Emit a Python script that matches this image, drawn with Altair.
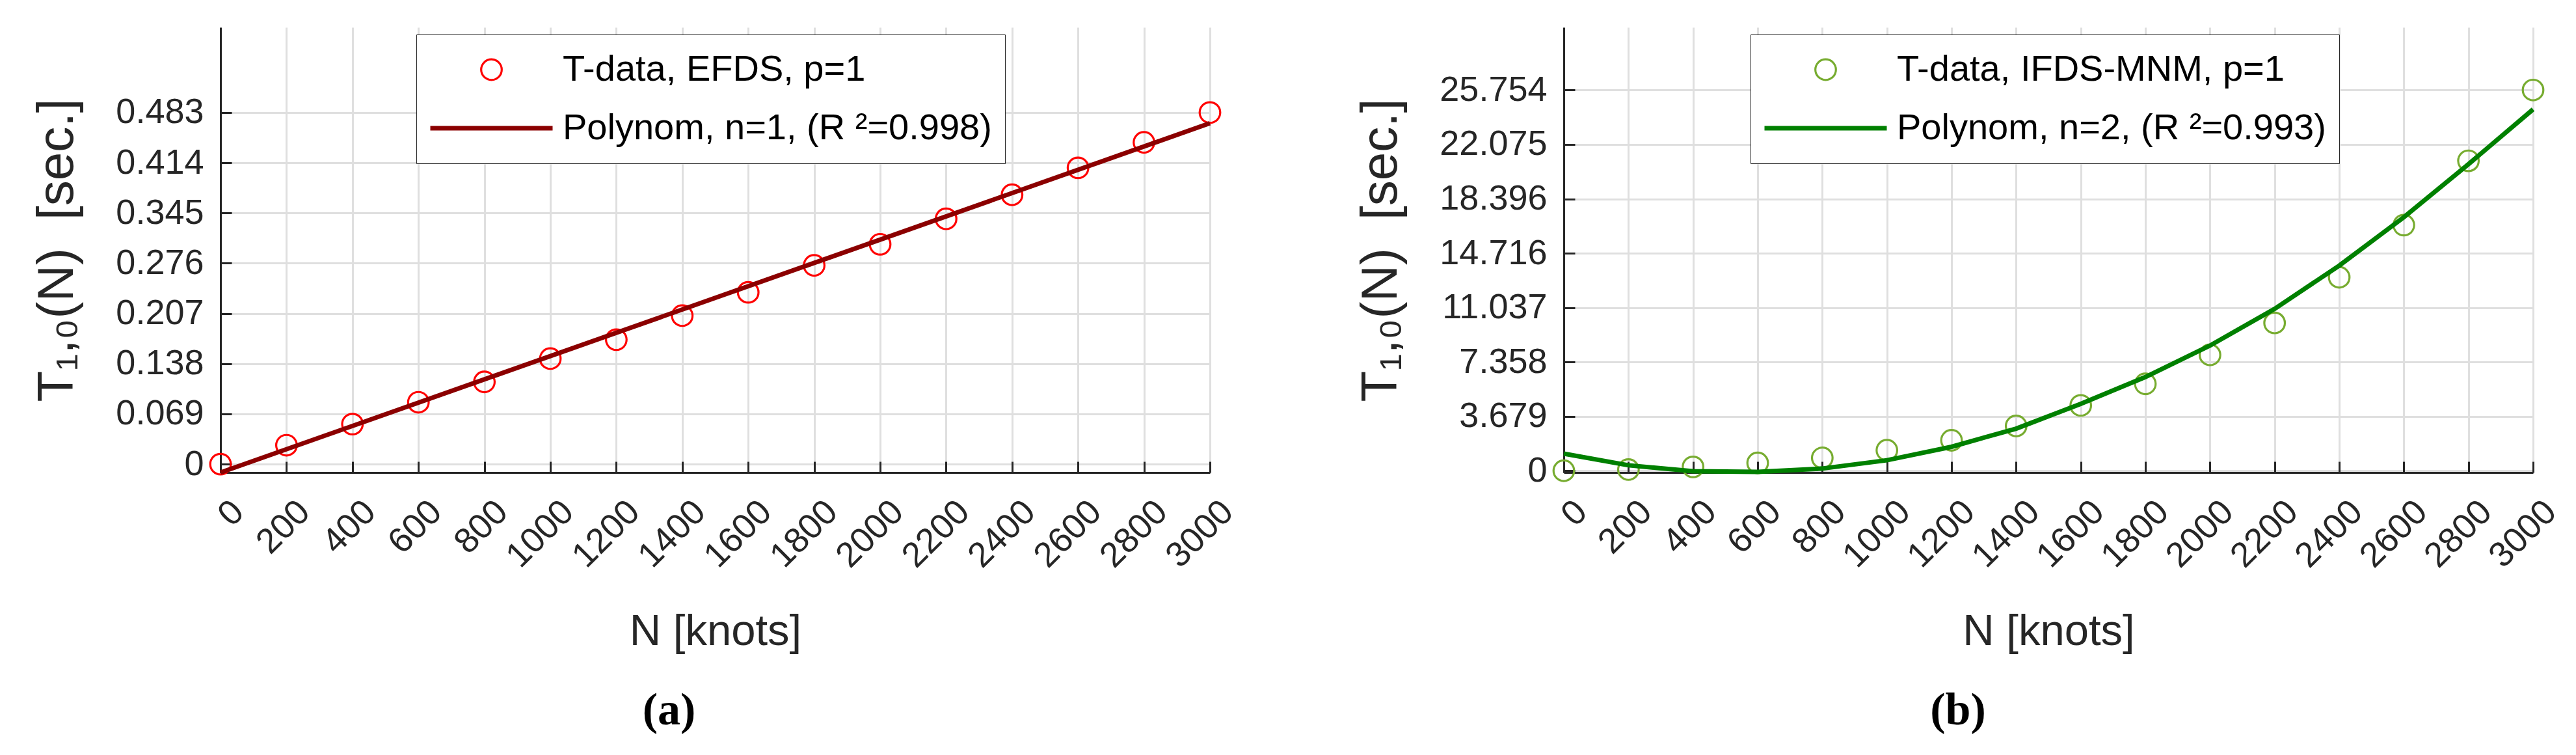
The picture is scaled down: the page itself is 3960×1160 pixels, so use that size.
import altair as alt
import pandas as pd

# ---------------- data ----------------
N_KNOTS = [0, 200, 400, 600, 800, 1000, 1200, 1400, 1600, 1800,
           2000, 2200, 2400, 2600, 2800, 3000]

# (a) EFDS measurements and the degree-1 fit (end points of the drawn line)
T_EFDS = [0.000, 0.026, 0.055, 0.085, 0.113, 0.145, 0.171, 0.204,
          0.236, 0.273, 0.302, 0.337, 0.370, 0.407, 0.442, 0.483]
FIT_A_N = [0, 3000]
FIT_A_T = [-0.0115, 0.4683]

# (b) IFDS-MNM measurements and the degree-2 fit evaluated at the knots
T_IFDS = [0.00, 0.08, 0.26, 0.53, 0.87, 1.39, 2.06, 3.03,
          4.42, 5.88, 7.84, 10.00, 13.09, 16.62, 20.97, 25.76]
FIT_B_N = N_KNOTS
FIT_B_T = [1.16, 0.37, -0.03, -0.08, 0.15, 0.71, 1.62, 2.85,
           4.53, 6.34, 8.47, 10.95, 13.88, 17.15, 20.74, 24.45]

X_TICKS = [0, 200, 400, 600, 800, 1000, 1200, 1400, 1600, 1800,
           2000, 2200, 2400, 2600, 2800, 3000]
Y_TICKS_A = [0, 0.069, 0.138, 0.207, 0.276, 0.345, 0.414, 0.483]
Y_TICKS_B = [0, 3.679, 7.358, 11.037, 14.716, 18.396, 22.075, 25.754]
Y_DOMAIN_A = [-0.0115, 0.6]
Y_DOMAIN_B = [-0.12, 30.0]

LABELS_A = ["T-data, EFDS, p=1", "Polynom, n=1, (R \u00b2=0.998)"]
LABELS_B = ["T-data, IFDS-MNM, p=1", "Polynom, n=2, (R \u00b2=0.993)"]
COLORS_A = ["#ff0000", "#8b0000"]
COLORS_B = ["#77ac30", "#008000"]

X_TITLE = "N [knots]"
Y_TITLE = "T\u2081,\u2080(N)\u00a0\u00a0[sec.]"

# ---------------- styling ----------------
AX = "#262626"
GRID = "#dfdfdf"
FONT = "Liberation Sans"
PLOT_H = 684
LINE_W = 7


def panel(pts_t, fit_n, fit_t, labels, colors, yticks, ydomain, width,
          caption, cap_dx, legend_x):
    pts_df = pd.DataFrame({"N": N_KNOTS, "T": pts_t, "series": labels[0]})
    fit_df = pd.DataFrame({"N": fit_n, "T": fit_t, "series": labels[1]})

    xscale = alt.Scale(domain=[0, 3000], nice=False, zero=False)
    yscale = alt.Scale(domain=ydomain, nice=False, zero=False)

    legend = alt.Legend(
        title=None, orient="none", legendX=legend_x, legendY=11,
        padding=20, clipHeight=68, rowPadding=22,
        symbolOffset=-2, labelOffset=12,
        labelFont=FONT, labelFontSize=56, labelColor="black", labelLimit=0,
        strokeColor=AX, fillColor="white",
    )

    x_main = alt.Axis(
        orient="bottom", values=X_TICKS, labelAngle=-45, labelAlign="right",
        labelBaseline="middle", labelFont=FONT, labelFontSize=54,
        labelExpr="format(datum.value, 'd')",
        labelColor=AX, labelPadding=52, labelOffset=27, labelOverlap=False,
        labelFlush=False, labelBound=False, ticks=False, tickSize=0,
        domainColor=AX, domainWidth=3, grid=True, gridColor=GRID,
        gridWidth=3, title=X_TITLE, titleFont=FONT, titleFontSize=67,
        titleFontWeight="normal", titleColor=AX, titlePadding=55,
    )
    x_ticks = alt.Axis(
        orient="bottom", values=X_TICKS, offset=-17, ticks=True,
        tickSize=17, tickWidth=3, tickColor=AX, labels=False,
        domain=False, grid=False, title=None,
    )
    y_main = alt.Axis(
        orient="left", values=yticks,
        labelExpr="datum.value == 0 ? '0' : format(datum.value, '.3f')",
        labelFont=FONT,
        labelFontSize=54, labelColor=AX, labelPadding=26, ticks=False,
        tickSize=0, domainColor=AX, domainWidth=3, grid=True,
        gridColor=GRID, gridWidth=3, labelOverlap=False, labelFlush=False,
        title=Y_TITLE, titleFont=FONT, titleFontSize=78,
        titleFontWeight="normal", titleColor=AX, titlePadding=50,
    )
    y_ticks = alt.Axis(
        orient="left", values=yticks, offset=-17, ticks=True, tickSize=17,
        tickWidth=3, tickColor=AX, labels=False, domain=False, grid=False,
        title=None,
    )

    dom = labels
    color = alt.Color("series:N", scale=alt.Scale(domain=dom, range=colors),
                      legend=legend)
    pts = alt.Chart(pts_df).mark_point(filled=False, opacity=1).encode(
        x=alt.X("N:Q", scale=xscale, axis=x_main),
        y=alt.Y("T:Q", scale=yscale, axis=y_main),
        color=color,
        shape=alt.Shape("series:N", scale=alt.Scale(
            domain=dom, range=["circle", "stroke"]), legend=legend),
        size=alt.Size("series:N", scale=alt.Scale(
            type="ordinal", domain=dom, range=[1000, 35344]), legend=legend),
        strokeWidth=alt.StrokeWidth("series:N", scale=alt.Scale(
            type="ordinal", domain=dom, range=[3.2, LINE_W]), legend=legend),
    )
    line = alt.Chart(fit_df).mark_line(strokeWidth=LINE_W).encode(
        x=alt.X("N:Q", scale=xscale, axis=x_ticks),
        y=alt.Y("T:Q", scale=yscale, axis=y_ticks),
        color=color,
    )
    return alt.layer(pts, line).resolve_axis(
        x="independent", y="independent"
    ).properties(
        width=width, height=PLOT_H,
        title=alt.TitleParams(
            text=caption, orient="bottom", anchor="middle", frame="group",
            font="Liberation Serif", fontSize=70, fontWeight="bold",
            color="black", offset=55, dx=cap_dx,
        ),
    )


pa = panel(T_EFDS, FIT_A_N, FIT_A_T, LABELS_A, COLORS_A, Y_TICKS_A,
           Y_DOMAIN_A, 1521, "(a)", -71, 301)
pb = panel(T_IFDS, FIT_B_N, FIT_B_T, LABELS_B, COLORS_B, Y_TICKS_B,
           Y_DOMAIN_B, 1490, "(b)", -139, 287)

chart = alt.hconcat(pa, pb, spacing=177).resolve_scale(
    x="independent", y="independent", color="independent",
    shape="independent", size="independent", strokeWidth="independent",
).resolve_legend(
    color="independent", shape="independent", size="independent",
    strokeWidth="independent",
).properties(
    padding={"left": 41, "top": 34, "right": 0, "bottom": 0},
    background="white",
).configure_view(strokeWidth=0)

chart.save("out.html", embed_options={"renderer": "svg", "actions": False})
